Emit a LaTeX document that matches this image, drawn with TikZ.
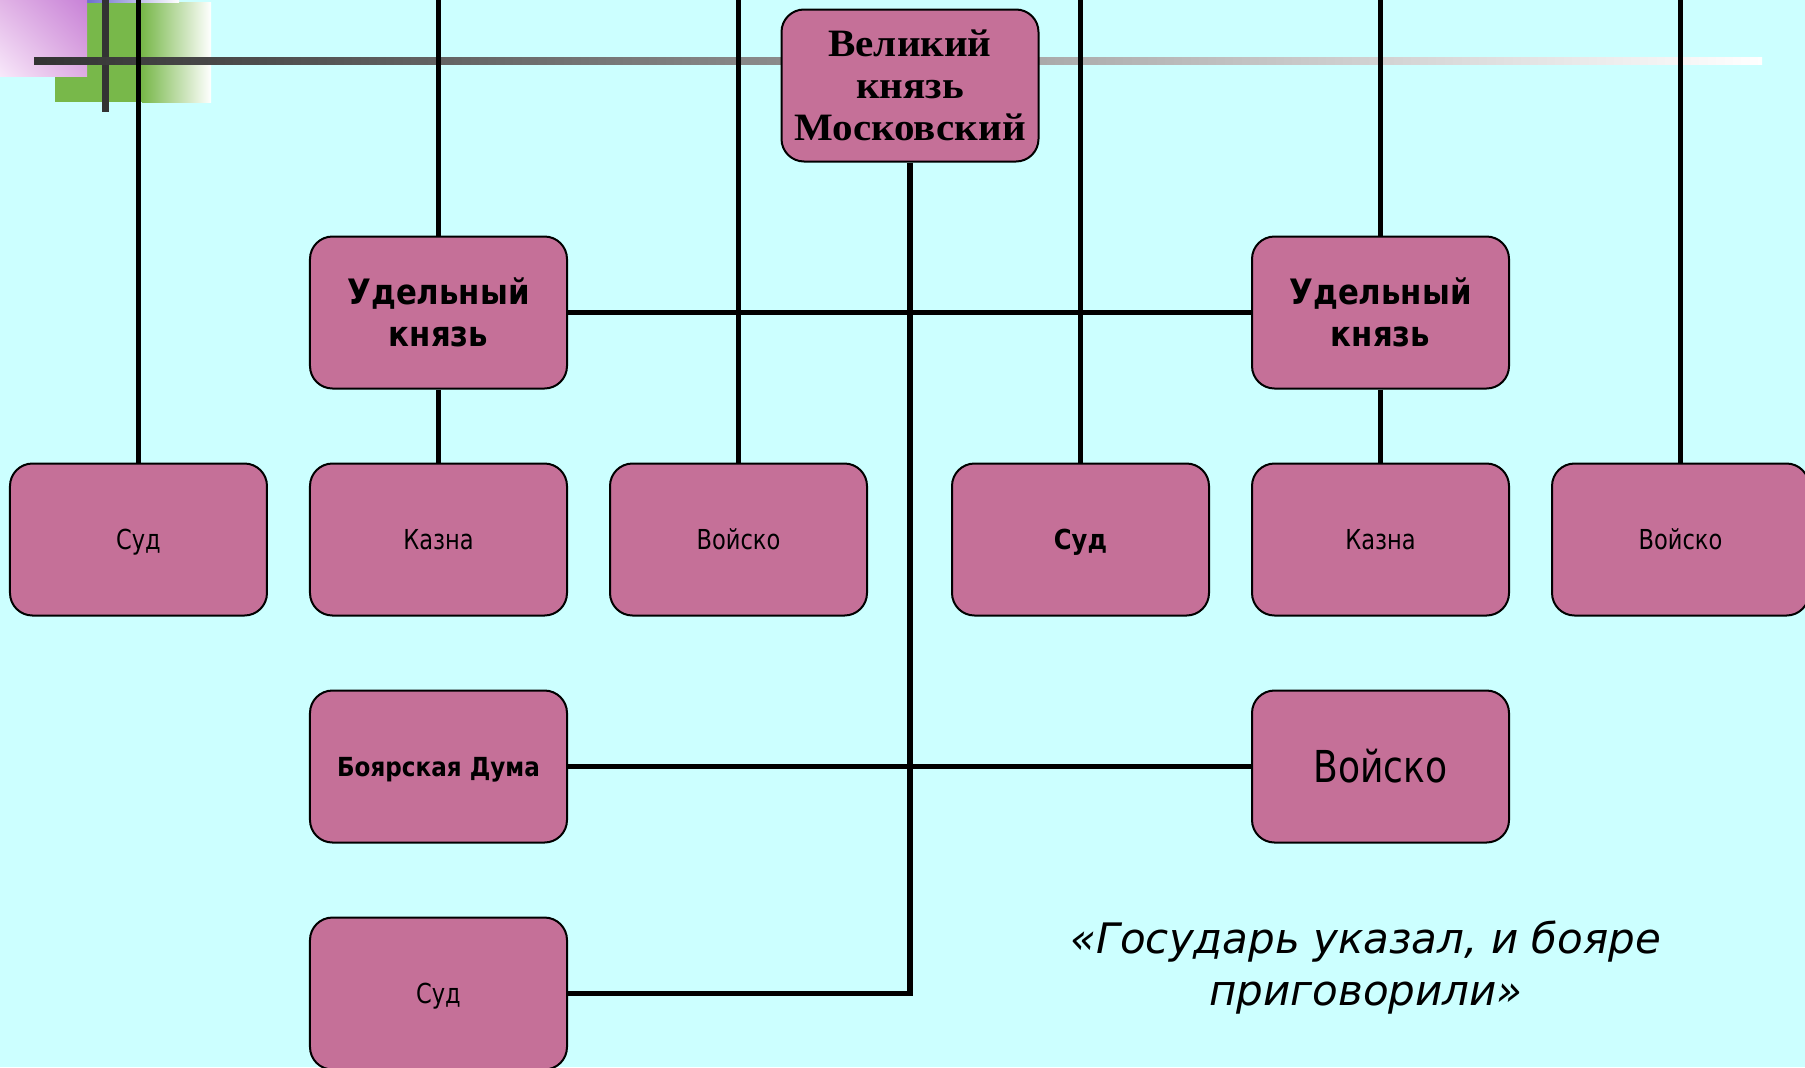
\documentclass[tikz,border=0pt]{standalone}
\usepackage{fontspec}
\usetikzlibrary{shadings}
\setmainfont{DejaVu Sans}
\newfontfamily\serifbf[FakeStretch=1.06]{Liberation Serif}
\newfontfamily\narrowsans[FakeStretch=0.82]{DejaVu Sans}
\newfontfamily\narrowbold[FakeStretch=0.88]{DejaVu Sans}
\definecolor{boxpink}{RGB}{197,112,152}
\definecolor{slidebg}{RGB}{204,255,255}
\definecolor{leafgreen}{RGB}{120,184,74}
\definecolor{barblack}{RGB}{51,51,51}
\definecolor{lilacA}{RGB}{225,180,230}
\definecolor{lilacB}{RGB}{200,130,215}
\definecolor{lilacC}{RGB}{248,232,250}
\definecolor{lilacD}{RGB}{222,172,226}
\definecolor{stripblue}{RGB}{110,110,205}

\begin{document}
\begin{tikzpicture}[x=0.4pt, y=-0.4pt, node distance=90.8pt]
    \tikzstyle{unit} = [rectangle, rounded corners=9pt, minimum width=102.8pt, minimum height=60.8pt, text centered, align=center, draw=black, line width=0.8pt, fill=boxpink, inner sep=2pt]
    \tikzstyle{oneline} = [unit, text height=7.9pt, text depth=0pt]
    \tikzstyle{link} = [line width=2.2pt, black]
    % slide background and corner ornament
    \fill[slidebg] (0,0) rectangle (1805,1067);
    \useasboundingbox (0,0) rectangle (1805,1067);
    \fill[leafgreen] (55,2) rectangle (142,102);
    \shade[left color=leafgreen, right color=white] (142,2) rectangle (211,102);
    \shade[left color=stripblue, right color=white] (87,0) rectangle (179,2);
    \shade[upper left=lilacA, upper right=lilacB, lower left=lilacC, lower right=lilacD] (0,0) rectangle (87,76);
    \fill[barblack] (102,0) rectangle (109,112);
    \shade[left color=barblack, right color=white] (34,57) rectangle (1762,64);
    \coordinate (top) at (0,0);

    \node (vk) [unit, font=\serifbf\bfseries\fontsize{15.5}{16.8}\selectfont] at (910,85.5) {Великий\\князь\\Московский};
    \node (ud1) [unit, font=\narrowbold\bfseries\fontsize{14}{16.8}\selectfont, below of=vk, xshift=-188.6pt] {Удельный\\князь};
    \node (ud2) [unit, font=\narrowbold\bfseries\fontsize{14}{16.8}\selectfont, below of=vk, xshift=188.2pt] {Удельный\\князь};
    \node (kz1) [oneline, font=\narrowsans\fontsize{11}{13}\selectfont, below of=ud1] {Казна};
    \node (sud1) [oneline, font=\narrowsans\fontsize{11}{13}\selectfont, left of=kz1, node distance=120pt] {Суд};
    \node (vo1) [oneline, font=\narrowsans\fontsize{11}{13}\selectfont, right of=kz1, node distance=120pt] {Войско};
    \node (kz2) [oneline, font=\narrowsans\fontsize{11}{13}\selectfont, below of=ud2] {Казна};
    \node (sud2) [oneline, font=\narrowbold\bfseries\fontsize{11}{13}\selectfont, left of=kz2, node distance=120pt] {Суд};
    \node (vo2) [oneline, font=\narrowsans\fontsize{11}{13}\selectfont, right of=kz2, node distance=120pt] {Войско};
    \node (bd) [oneline, text height=7.6pt, font=\narrowbold\bfseries\fontsize{10.5}{12}\selectfont, below of=kz1] {Боярская Дума};
    \node (vo3) [oneline, text height=12.7pt, font=\narrowsans\fontsize{17.6}{20}\selectfont, below of=kz2] {Войско};
    \node (sud3) [oneline, font=\narrowsans\fontsize{11}{13}\selectfont, below of=bd] {Суд};
    \node (quote) [font=\itshape\fontsize{16.8}{20.8}\selectfont, align=center] at (1366,968) {«Государь указал, и бояре\\приговорили»};

    \draw [link] (sud1.north) -- (sud1.north |- top);
    \draw [link] (ud1.north) -- (ud1.north |- top);
    \draw [link] (vo1.north) -- (vo1.north |- top);
    \draw [link] (sud2.north) -- (sud2.north |- top);
    \draw [link] (ud2.north) -- (ud2.north |- top);
    \draw [link] (vo2.north) -- (vo2.north |- top);
    \draw [link] (ud1) -- (kz1);
    \draw [link] (ud2) -- (kz2);
    \draw [link] (ud1) -- (ud2);
    \draw [link] (vk) |- (sud3);
    \draw [link] (bd) -- (vo3);

    \end{tikzpicture}
\end{document}
